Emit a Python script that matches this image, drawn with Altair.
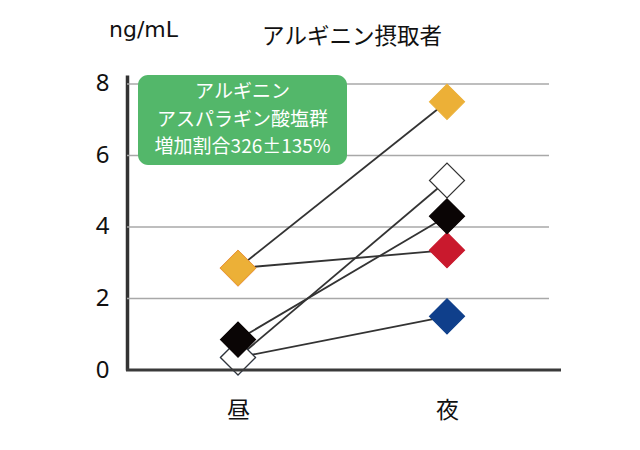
import altair as alt
import pandas as pd

# ---- data ----
times = ["昼", "夜"]
series = ["red", "blue", "white", "black", "orange"]          # drawing order
day_values = [2.85, 0.35, 0.35, 0.85, 2.85]
night_values = [3.35, 1.5, 5.3, 4.3, 7.5]
fill_colors = ["#C9192D", "#0F3F8B", "#FFFFFF", "#0A0505", "#ECB037"]
stroke_colors = ["#C9192D", "#0F3F8B", "#333333", "#0A0505", "#ECB037"]
y_ticks = [0, 2, 4, 6, 8]
grid_values = [2, 4, 6, 8]

title_text = "アルギニン摂取者"
unit_text = "ng/mL"
box_lines = ["アルギニン", "アスパラギン酸塩群", "増加割合326±135%"]

rows = []
for i, s in enumerate(series):
    rows.append({"series": s, "time": times[0], "value": day_values[i], "ord": i})
    rows.append({"series": s, "time": times[1], "value": night_values[i], "ord": i})
df = pd.DataFrame(rows)

W, H = 422, 295
JP = "Noto Sans CJK JP"
LAT = "Noto Sans"

x_enc = alt.X("time:N", sort=times,
              scale=alt.Scale(type="point", domain=times, range=[111, 320], padding=0),
              axis=alt.Axis(title=None, labelAngle=0, domain=False, ticks=False, grid=False,
                            labelFont=JP, labelFontSize=23, labelColor="#111111",
                            labelPadding=29))
y_scale = alt.Scale(domain=[0, 8.25], nice=False, zero=True)
y_enc = alt.Y("value:Q", scale=y_scale,
              axis=alt.Axis(title=None, values=y_ticks, grid=False,
                            domainColor="#333333", domainWidth=3.5,
                            ticks=False, labelFont=LAT, labelFontSize=24,
                            labelColor="#111111", labelPadding=18))

base = alt.Chart(df)

grid = alt.Chart(pd.DataFrame({"value": grid_values})).mark_rule(
    color="#a8a8a8", strokeWidth=1.5).encode(
    y=y_enc, x=alt.value(0), x2=alt.value(W))

lines = base.mark_line(color="#333333", strokeWidth=1.8).encode(
    x=x_enc, y=y_enc, detail="series:N")

points = base.mark_point(shape="diamond", filled=True, size=1225, opacity=1,
                         strokeWidth=1.2).encode(
    x=x_enc, y=y_enc,
    fill=alt.Fill("series:N", scale=alt.Scale(domain=series, range=fill_colors), legend=None),
    stroke=alt.Stroke("series:N", scale=alt.Scale(domain=series, range=stroke_colors), legend=None),
    order=alt.Order("ord:Q"))

one = pd.DataFrame({"k": [0]})

bottom_axis = alt.Chart(one).mark_rule(color="#3a3a3a", strokeWidth=3).encode(
    x=alt.value(-1), x2=alt.value(434), y=alt.value(H))

box = alt.Chart(one).mark_rect(color="#53B76A", cornerRadius=10).encode(
    x=alt.value(11), x2=alt.value(220), y=alt.value(0), y2=alt.value(90))

box_texts = [
    alt.Chart(one).mark_text(font=JP, fontSize=19, color="white", align="center",
                             baseline="middle").encode(
        x=alt.value(115.5), y=alt.value(yv), text=alt.value(t))
    for t, yv in zip(box_lines, [17, 45, 72])
]

title = alt.Chart(one).mark_text(font=JP, fontSize=22.5, color="#111111", align="center",
                                  baseline="alphabetic").encode(
    x=alt.value(225), y=alt.value(-31), text=alt.value(title_text))

unit = alt.Chart(one).mark_text(font="DejaVu Sans", fontSize=22, color="#111111", align="left",
                                 baseline="alphabetic").encode(
    x=alt.value(-18), y=alt.value(-38), text=alt.value(unit_text))

chart = alt.layer(grid, lines, points, bottom_axis, box, *box_texts, title, unit).properties(
    width=W, height=H,
    autosize=alt.AutoSizeParams(type="none"),
    padding={"left": 127, "top": 75, "right": 91, "bottom": 80},
).configure(background="white").configure_view(stroke=None)

chart.save("out.html", embed_options={"renderer": "svg", "actions": False})
